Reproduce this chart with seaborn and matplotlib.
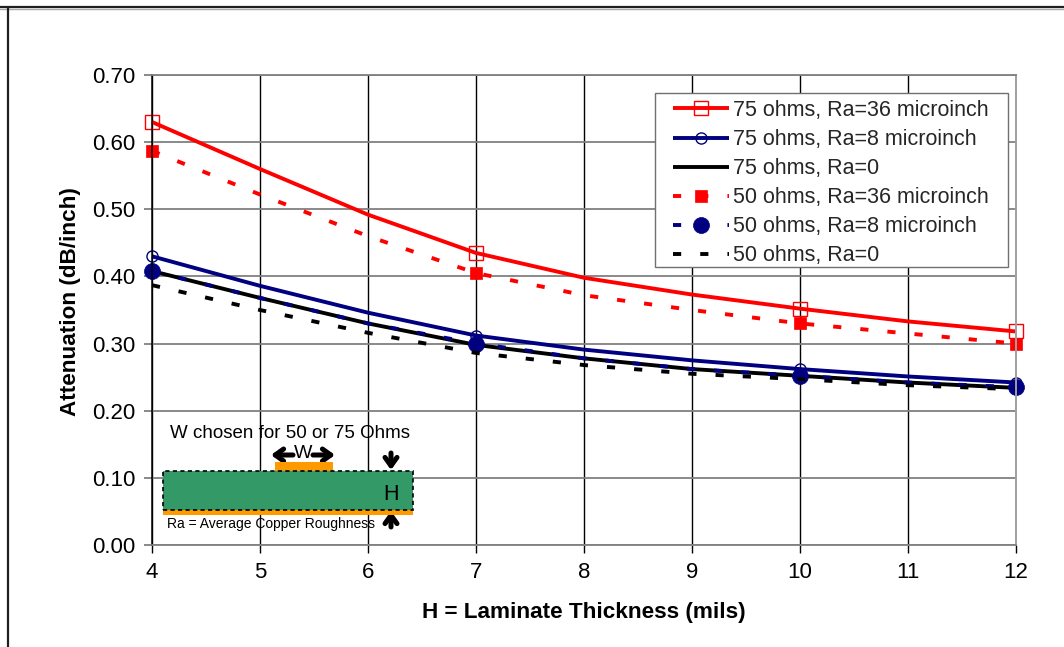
import matplotlib
matplotlib.use("Agg")
import matplotlib.pyplot as plt
import seaborn as sns
from matplotlib.patches import Rectangle
from matplotlib.lines import Line2D

thickness = [4, 5, 6, 7, 8, 9, 10, 11, 12]
ohm75_ra36 = [0.630, 0.560, 0.492, 0.435, 0.398, 0.373, 0.352, 0.333, 0.318]
ohm75_ra8 = [0.430, 0.386, 0.346, 0.312, 0.291, 0.275, 0.262, 0.251, 0.242]
ohm75_ra0 = [0.408, 0.368, 0.330, 0.298, 0.278, 0.262, 0.252, 0.242, 0.234]
ohm50_ra36 = [0.587, 0.522, 0.460, 0.405, 0.372, 0.350, 0.330, 0.315, 0.300]
ohm50_ra8 = [0.408, 0.368, 0.330, 0.300, 0.278, 0.262, 0.252, 0.242, 0.235]
ohm50_ra0 = [0.387, 0.350, 0.316, 0.286, 0.268, 0.255, 0.247, 0.238, 0.232]
labels = ["75 ohms, Ra=36 microinch", "75 ohms, Ra=8 microinch", "75 ohms, Ra=0",
          "50 ohms, Ra=36 microinch", "50 ohms, Ra=8 microinch", "50 ohms, Ra=0"]
x_ticks = [4, 5, 6, 7, 8, 9, 10, 11, 12]
y_ticks = [0.0, 0.1, 0.2, 0.3, 0.4, 0.5, 0.6, 0.7]
marker_idx = [0, 3, 6, 8]

sns.set_theme(style="white")
plt.rcParams["font.family"] = ["Liberation Sans", "DejaVu Sans"]

W, H = 1064, 647
fig = plt.figure(figsize=(W / 100, H / 100), dpi=100, facecolor="white")
ax = fig.add_axes([152 / W, 1 - 545 / H, (1016 - 152) / W, (545 - 75) / H])
ax.set_axisbelow(True)


def px(x, y):
    return (x / W, 1 - y / H)


# outer frame
for xs, ys, c, lw in [((0, 1064), (9.2, 9.2), "#a8a8a8", 1.0), ((0, 1064), (7.2, 7.2), "#202020", 1.6),
                      ((7.5, 7.5), (7, 647), "#202020", 1.6)]:
    fig.add_artist(Line2D([x / W for x in xs], [1 - y / H for y in ys], color=c, lw=lw))

styles = [
    (ohm75_ra36, "#ff0000", "s", 10, "none", 1.0, None),
    (ohm75_ra8, "#000080", "o", 8, "none", 1.0, None),
    (ohm75_ra0, "#000000", None, 0, "none", 1.0, None),
    (ohm50_ra36, "#ff0000", "s", 9, "#ff0000", 0.5, (2.1, 4.9)),
    (ohm50_ra8, "#000080", "o", 11.5, "#000080", 0.5, (2.1, 4.9)),
    (ohm50_ra0, "#000000", None, 0, "none", 1.0, (2.1, 4.9)),
]
handles = []
for lab, (data, col, mk, ms, mfc, mew, dash) in zip(labels, styles):
    before = len(ax.lines)
    sns.lineplot(x=thickness, y=data, ax=ax, color=col, lw=2.8, errorbar=None, label=lab, legend=False)
    ln = ax.lines[before]
    ln.set_clip_on(False)
    ln.set_solid_capstyle("butt")
    ln.set_dash_capstyle("butt")
    if dash:
        ln.set_dashes(dash)
    if mk:
        ln.set_marker(mk)
        ln.set_markevery(marker_idx)
        ln.set_markersize(ms)
        ln.set_markerfacecolor(mfc)
        ln.set_markeredgecolor(col)
        ln.set_markeredgewidth(mew)
    handles.append(ln)

ax.set_xlim(4, 12)
ax.set_ylim(0, 0.70)
ax.set_xticks(x_ticks)
ax.set_yticks(y_ticks)
ax.set_yticklabels([f"{v:.2f}" for v in y_ticks])
ax.grid(True, axis="x", color="black", lw=1.0)
ax.grid(True, axis="y", color="#808080", lw=1.3)
ax.tick_params(axis="x", length=6, width=1, color="black", labelsize=16, pad=6, bottom=True, labelcolor="black")
ax.tick_params(axis="y", length=6, width=1.3, color="#808080", labelsize=16, pad=6, left=True, labelcolor="black")
for name, c, lw in [("left", "black", 1.1), ("bottom", "#808080", 1.3), ("right", "#a0a0a0", 1.4), ("top", "#808080", 1.3)]:
    ax.spines[name].set_visible(True)
    ax.spines[name].set_color(c)
    ax.spines[name].set_linewidth(lw)
ax.set_xlabel("H = Laminate Thickness (mils)", fontsize=16.2, fontweight="bold", color="black", labelpad=0)
ax.xaxis.set_label_coords(0.5, -0.122)
ax.set_ylabel("Attenuation (dB/inch)", fontsize=16.2, fontweight="bold", color="black")
ax.yaxis.set_label_coords(-0.0822, 0.517)

# legend box and entries
fig.add_artist(Rectangle(px(655, 267), (1008 - 655) / W, (267 - 93) / H, transform=fig.transFigure,
                         facecolor="white", edgecolor="#707070", lw=1.0, zorder=9))
leg = fig.legend(handles=handles, labels=labels, loc="upper left", bbox_to_anchor=px(673, 100),
                 bbox_transform=fig.transFigure, fontsize=15.5, frameon=False, borderaxespad=0, borderpad=0,
                 handlelength=2.6, handletextpad=0.19, labelspacing=0.375, numpoints=1)
leg.set_zorder(10)

# stripline inset
T = fig.transFigure
Z = 6


def frect(x0, y0, x1, y1, **kw):
    fig.add_artist(Rectangle(px(x0, y1), (x1 - x0) / W, (y1 - y0) / H, transform=T, zorder=Z, **kw))


frect(163, 510, 413, 515, facecolor="#ff9900", edgecolor="none")
frect(275, 462, 333, 471, facecolor="#ff9900", edgecolor="none")
frect(163, 471, 413, 510, facecolor="#339966", edgecolor="black", lw=1.2, ls=(0, (2.5, 2)))


def arrow(x0, y0, x1, y1):
    a = ax.annotate("", xy=px(x1, y1), xytext=px(x0, y0), xycoords="figure fraction",
                    textcoords="figure fraction", zorder=Z + 1,
                    arrowprops=dict(arrowstyle="->,head_length=0.5,head_width=0.36", lw=3.6, color="black",
                                    shrinkA=0, shrinkB=0))
    a.set_zorder(Z + 1)


arrow(293, 455, 271, 455)
arrow(313, 455, 335, 455)
arrow(391, 453, 391, 470)
arrow(391, 527, 391, 511)

for x, y, s, size, ha in [(290, 433, "W chosen for 50 or 75 Ohms", 13.5, "center"),
                          (303, 454, "W", 14, "center"),
                          (391, 494, "H", 15.5, "center"),
                          (167, 524, "Ra = Average Copper Roughness", 10, "left")]:
    fig.text(*px(x, y), s, fontsize=size, ha=ha, va="center", color="black", zorder=Z + 2)

fig.savefig("out.png", dpi=100, facecolor="white")
